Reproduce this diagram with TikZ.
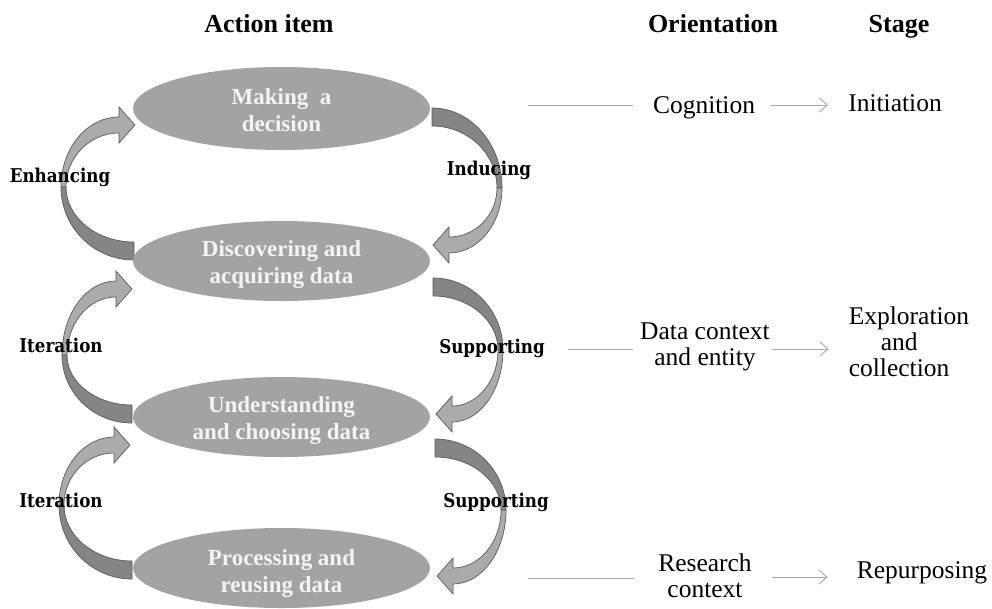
\documentclass[tikz,border=0pt]{standalone}
\usepackage{fontspec}
\setmainfont{Liberation Serif}
\newfontfamily\lblfont[FakeStretch=0.88]{DejaVu Serif}
\usetikzlibrary{arrows.meta,shapes.geometric}

\definecolor{ellgray}{HTML}{A3A3A3}
\definecolor{darkband}{HTML}{858585}
\definecolor{lightband}{HTML}{ABABAB}
\definecolor{bandedge}{HTML}{5A5A5A}
\definecolor{linegray}{HTML}{A8A8A8}
\definecolor{elltext}{HTML}{F4F4F4}

% left curved block arrow: x0, yB (flat end), xL, ym (leftmost), xH, yH (head base)
\newcommand{\lbend}[6]{%
  \filldraw[darkb] (#1,{#2+9}) .. controls ({#1-0.552*(#1-#3)},{#2+9}) and (#3,{#4+0.552*(#2+9-#4)}) .. (#3,#4)
    -- ({#3+5},#4) .. controls ({#3+5},{#4+0.552*(#2-9-#4)}) and ({#1-0.552*(#1-#3-5)},{#2-9}) .. (#1,{#2-9}) -- cycle;
  \filldraw[lightb] (#3,#4) .. controls (#3,{#4-0.552*(#4-#6+8)}) and ({#5-0.552*(#5-#3)},{#6-8}) .. (#5,{#6-8})
    -- (#5,{#6-18}) -- ({#5+16},#6) -- (#5,{#6+18}) -- (#5,{#6+8})
    .. controls ({#5-0.552*(#5-#3-5)},{#6+8}) and ({#3+5},{#4-0.552*(#4-#6-8)}) .. ({#3+5},#4) -- cycle;
}
% right curved block arrow: x0, yB (flat end), xR, ym (rightmost), xH, yH (head base)
\newcommand{\rbend}[6]{%
  \filldraw[darkb] (#1,{#2-9}) .. controls ({#1+0.552*(#3-#1)},{#2-9}) and (#3,{#4-0.552*(#4-#2+9)}) .. (#3,#4)
    -- ({#3-5},#4) .. controls ({#3-5},{#4-0.552*(#4-#2-9)}) and ({#1+0.552*(#3-5-#1)},{#2+9}) .. (#1,{#2+9}) -- cycle;
  \filldraw[lightb] (#3,#4) .. controls (#3,{#4+0.552*(#6+8-#4)}) and ({#5+0.552*(#3-#5)},{#6+8}) .. (#5,{#6+8})
    -- (#5,{#6+18}) -- ({#5-16},#6) -- (#5,{#6-18}) -- (#5,{#6-8})
    .. controls ({#5+0.552*(#3-5-#5)},{#6-8}) and ({#3-5},{#4+0.552*(#6-8-#4)}) .. ({#3-5},#4) -- cycle;
}

\begin{document}
\begin{tikzpicture}[x=1pt,y=-1pt,
  darkb/.style={fill=darkband,draw=bandedge,line width=0.7pt,line join=miter},
  lightb/.style={fill=lightband,draw=bandedge,line width=0.7pt,line join=miter},
  ell/.style={ellipse,fill=ellgray,draw=none,minimum width=297pt,minimum height=80pt,inner sep=0pt},
  elltxt/.style={text=elltext,font=\fontsize{23}{27}\selectfont\bfseries,align=center,inner sep=0pt},
  head/.style={font=\fontsize{26}{30}\selectfont\bfseries,anchor=base,inner sep=0pt},
  lbl/.style={font=\lblfont\fontsize{19}{22}\selectfont\bfseries,anchor=base,inner sep=0pt},
  rtxt/.style={font=\fontsize{25.5}{26}\selectfont,align=center,inner sep=0pt},
  rtxtb/.style={font=\fontsize{25.5}{26}\selectfont,anchor=base,inner sep=0pt},
  gline/.style={draw=linegray,line width=0.9pt},
  garrow/.style={draw=linegray,line width=0.9pt,-{Straight Barb[length=8pt,width=14pt,line width=0.9pt]}}
]
\useasboundingbox (0,0) rectangle (992,608);

% curved block arrows
\lbend{134}{251}{61}{187}{119}{125}
\lbend{132}{414}{62}{355}{116}{289}
\lbend{132}{570}{59}{505}{114}{445}
\rbend{432}{117}{502}{188}{449}{245}
\rbend{433}{287}{503}{350}{452}{414}
\rbend{435}{448}{506}{510}{453}{576}

% ellipses
\node[ell,minimum height=83pt] (e1) at (281.5,108.5) {};
\node[ell] (e2) at (281.5,261) {};
\node[ell] (e3) at (281.5,417) {};
\node[ell] (e4) at (281.5,568) {};

\node[elltxt] (t1) at (281.5,109.7) {Making\ \ a\\decision};
\node[elltxt] (t2) at (281.5,264.6) {Discovering and\\acquiring data};
\node[elltxt] (t3) at (281.5,420.2) {Understanding\\and choosing data};
\node[elltxt] (t4) at (281.5,573.2) {Processing and\\reusing data};

% headers
\node[head] (h1) at (269,32) {Action item};
\node[head] (h2) at (713,32) {Orientation};
\node[head] (h3) at (899,32) {Stage};

% labels on the curved arrows
\node[lbl] (l1) at (60,182) {Enhancing};
\node[lbl] (l2) at (489,175) {Inducing};
\node[lbl] (l3) at (61,352) {Iteration};
\node[lbl] (l4) at (492,353) {Supporting};
\node[lbl] (l5) at (61,507) {Iteration};
\node[lbl] (l6) at (496,507) {Supporting};

% orientation and stage texts
\node[rtxtb] (cog) at (704,113) {Cognition};
\node[rtxtb] (ini) at (895,111) {Initiation};
\node[rtxt] (dc) at (705,346.9) {Data context\\and entity};
\node[rtxt,align=left] (ex) at (909,342) {Exploration\\\hspace*{32pt}and\\collection};
\node[rtxt] (rc) at (705,576) {Research\\context};
\node[rtxtb] (rp) at (922,578) {Repurposing};

% connectors
\coordinate (p1) at (528,105);
\coordinate (p2) at (568,349);
\coordinate (p3) at (528,578);
\draw[gline,shorten >=20pt] (p1) -- (p1 -| cog.west);
\draw[garrow,shorten <=16pt,shorten >=20pt] (p1 -| cog.east) -- (p1 -| ini.west);
\draw[gline,shorten >=7pt] (p2) -- (p2 -| dc.west);
\draw[garrow,shorten <=2pt,shorten >=20pt] (p2 -| dc.east) -- (p2 -| ex.west);
\draw[gline,shorten >=24pt] (p3) -- (p3 -| rc.west);
\draw[garrow,shorten <=20pt,shorten >=29pt] ([yshift=1pt]p3 -| rc.east) -- ([yshift=1pt]p3 -| rp.west);
\end{tikzpicture}
\end{document}
